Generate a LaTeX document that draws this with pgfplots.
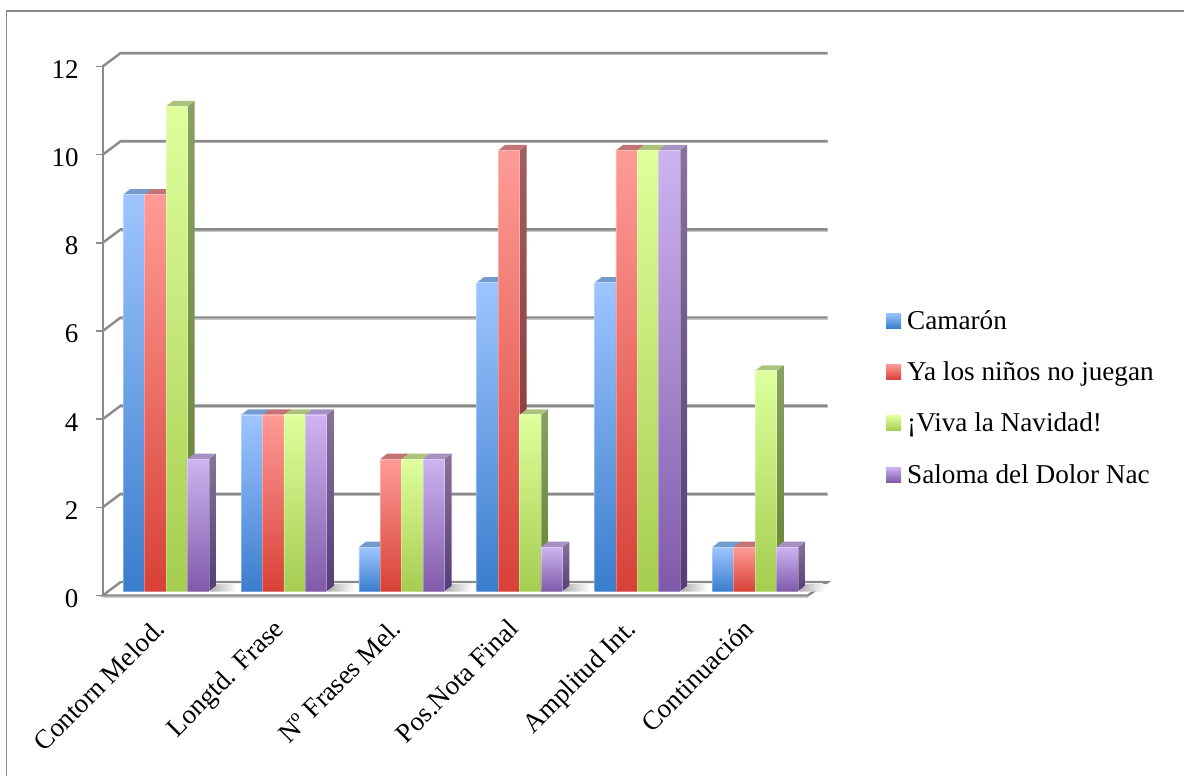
\documentclass[border=0pt]{standalone}
\usepackage{fontspec}
\setmainfont{Liberation Serif}
\usepackage{pgfplots}
\usepackage{pgfplotstable}
\pgfplotsset{compat=1.18}
\pgfplotstableread{
x A B C D
166.1 9 9 11 3
283.9 4 4 4 4
401.7 1 3 3 3
519.5 7 10 4 1
637.3 7 10 10 10
755.1 1 1 5 1
}\bars
% colours: front top / middle / bottom, top face, side top / bottom
\definecolor{Aft}{RGB}{158,197,255}\definecolor{Afm}{RGB}{130,178,243}\definecolor{Afb}{RGB}{58,125,205}\definecolor{Atp}{RGB}{115,155,205}\definecolor{Ast}{RGB}{110,140,185}\definecolor{Asb}{RGB}{40,85,140}
\definecolor{Bft}{RGB}{255,155,150}\definecolor{Bfm}{RGB}{248,130,122}\definecolor{Bfb}{RGB}{215,65,55}\definecolor{Btp}{RGB}{195,115,115}\definecolor{Bst}{RGB}{160,95,95}\definecolor{Bsb}{RGB}{130,45,40}
\definecolor{Cft}{RGB}{222,255,155}\definecolor{Cfm}{RGB}{202,238,130}\definecolor{Cfb}{RGB}{165,205,80}\definecolor{Ctp}{RGB}{170,195,125}\definecolor{Cst}{RGB}{138,160,100}\definecolor{Csb}{RGB}{100,130,50}
\definecolor{Dft}{RGB}{205,180,240}\definecolor{Dfm}{RGB}{180,150,220}\definecolor{Dfb}{RGB}{128,90,170}\definecolor{Dtp}{RGB}{165,145,195}\definecolor{Dst}{RGB}{135,115,155}\definecolor{Dsb}{RGB}{85,60,120}
\definecolor{axgray}{RGB}{138,138,138}
\newcommand\faces[3]{%
  \pgfplotstablegetelem{#1}{#2}\of\bars\let\vv\pgfplotsretval
  \pgfplotstablegetelem{#1}{x}\of\bars\let\cx\pgfplotsretval
  \pgfmathsetmacro\xa{\cx+(#3-1.5)*21.4-10.7}%
  \pgfmathsetmacro\xb{\xa+21.4}%
  \pgfmathsetmacro\xc{\xb+7}%
  \pgfmathsetmacro\xd{\xa+7}%
  \pgfmathsetmacro\vt{\vv+0.125}%
  \pgfmathsetmacro\bs{(#3-1.5)*21.4}%
  \edef\temp{\noexpand\addplot[forget plot,mark=none,draw=none,top color=#2st,bottom color=#2sb,yshift=4.2pt] coordinates {(\xb,0)(\xc,0.125)(\xc,\vt)(\xb,\vv)} -- cycle;
  \noexpand\addplot[forget plot,mark=none,draw=none,fill=#2tp,yshift=4.2pt] coordinates {(\xa,\vv)(\xb,\vv)(\xc,\vt)(\xd,\vt)} -- cycle;
  \noexpand\addplot[forget plot,ybar,bar width=21.4pt,bar shift=\bs pt,draw=white,draw opacity=0.3,line width=0.7pt,top color=#2ft,middle color=#2fm,bottom color=#2fb,yshift=4.2pt] coordinates {(\cx,\vv)};}\temp
}
\newcommand\series[2]{%
  \pgfplotsforeachungrouped \r in {0,...,5}{\faces{\r}{#1}{#2}}%
}
\newcommand\gridat[1]{%
  \pgfmathsetmacro\gy{#1+0.306}%
  \edef\temp{\noexpand\addplot[forget plot,mark=none,draw=black!22,line width=1.2pt,yshift=-1.6pt] coordinates {(120.7,\gy)(827.7,\gy)};
  \noexpand\addplot[forget plot,mark=none,draw=axgray,line width=2.4pt] coordinates {(102.7,#1)(120.7,\gy)(827.7,\gy)};}\temp
}
\begin{document}
\begin{tikzpicture}[x=1pt,y=1pt]
\useasboundingbox (0,0) rectangle (1184,776);
\draw[axgray,line width=1.6pt] (6.5,-5) -- (6.5,765) -- (1190,765);
\begin{axis}[
  at={(102.7pt,180.5pt)},anchor=south west,
  scale only axis,width=705pt,height=529pt,
  xmin=102.7,xmax=807.7,ymin=0,ymax=12,clip=false,
  axis lines=left,axis line style={draw=none,-},
  xtick={161.45,279.95,397.45,514.95,632.45,749.95},
  xticklabels={Contorn Melod.,Longtd. Frase,Nº Frases Mel.,Pos.Nota Final,Amplitud Int.,Continuación},
  extra x ticks={102.7,220.2,337.7,455.2,572.7,690.2,807.7},
  extra x tick labels={},
  extra x tick style={major tick length=8pt,tick style={axgray,line width=1.4pt}},
  ytick={0,2,4,6,8,10,12},
  tick align=outside,
  x tick style={draw=none},
  y tick style={axgray,line width=1.4pt},
  major tick length=7pt,
  tick label style={font=\fontsize{27}{32}\selectfont},
  /pgf/number format/assume math mode=true,
  yticklabel style={inner sep=0pt,xshift=-17pt,yshift=-3pt},
  xticklabel style={rotate=45,anchor=north east,inner sep=0pt,yshift=-4.5pt,xshift=-16pt},
  legend style={at={(axis cs:886,4.49)},anchor=west,draw=none,fill=none,inner sep=0pt,
    font=\fontsize{27.2}{32}\selectfont,row sep=31pt,
    nodes={inner sep=0pt,anchor=west},column sep=6pt},
  legend cell align=left,
]
% walls and floor
\pgfplotsinvokeforeach{2,4,6,8,10,12}{\gridat{#1}}
\addplot[forget plot,mark=none,draw=axgray,line width=2.4pt] coordinates {(102.7,0)(102.7,12)};
\addplot[forget plot,mark=none,draw=axgray,line width=2.4pt] coordinates {(120.7,0.306)(827.7,0.306)(807.7,0)(102.7,0)(120.7,0.306)};
\addplot[forget plot,mark=none,draw=black!20,line width=1.4pt,yshift=-2pt] coordinates {(102.7,0)(807.7,0)};
% floor shadows
\pgfplotsinvokeforeach{216.7,334.5,452.3,570.1,687.9,805.7}{%
  \pgfmathsetmacro\sa{#1-7}\pgfmathsetmacro\sb{#1+20}%
  \edef\temp{\noexpand\addplot[forget plot,mark=none,draw=none,left color=black!32,right color=white] coordinates {(\sa,0.09)(\sb,0.09)(\sb,0.26)(#1,0.26)} -- cycle;}\temp
}
% series: each bar gets its side, top and front face
\series{A}{0}
\series{B}{1}
\series{C}{2}
\series{D}{3}
\addlegendimage{legend image code/.code={\path[draw=none,top color=Aft,bottom color=Afb] (0pt,-7.5pt) rectangle (15pt,7.5pt);}}
\addlegendentry{Camarón}
\addlegendimage{legend image code/.code={\path[draw=none,top color=Bft,bottom color=Bfb] (0pt,-7.5pt) rectangle (15pt,7.5pt);}}
\addlegendentry{Ya los niños no juegan}
\addlegendimage{legend image code/.code={\path[draw=none,top color=Cft,bottom color=Cfb] (0pt,-7.5pt) rectangle (15pt,7.5pt);}}
\addlegendentry{¡Viva la Navidad!}
\addlegendimage{legend image code/.code={\path[draw=none,top color=Dft,bottom color=Dfb] (0pt,-7.5pt) rectangle (15pt,7.5pt);}}
\addlegendentry{Saloma del Dolor Nac}
\end{axis}
\end{tikzpicture}
\end{document}
